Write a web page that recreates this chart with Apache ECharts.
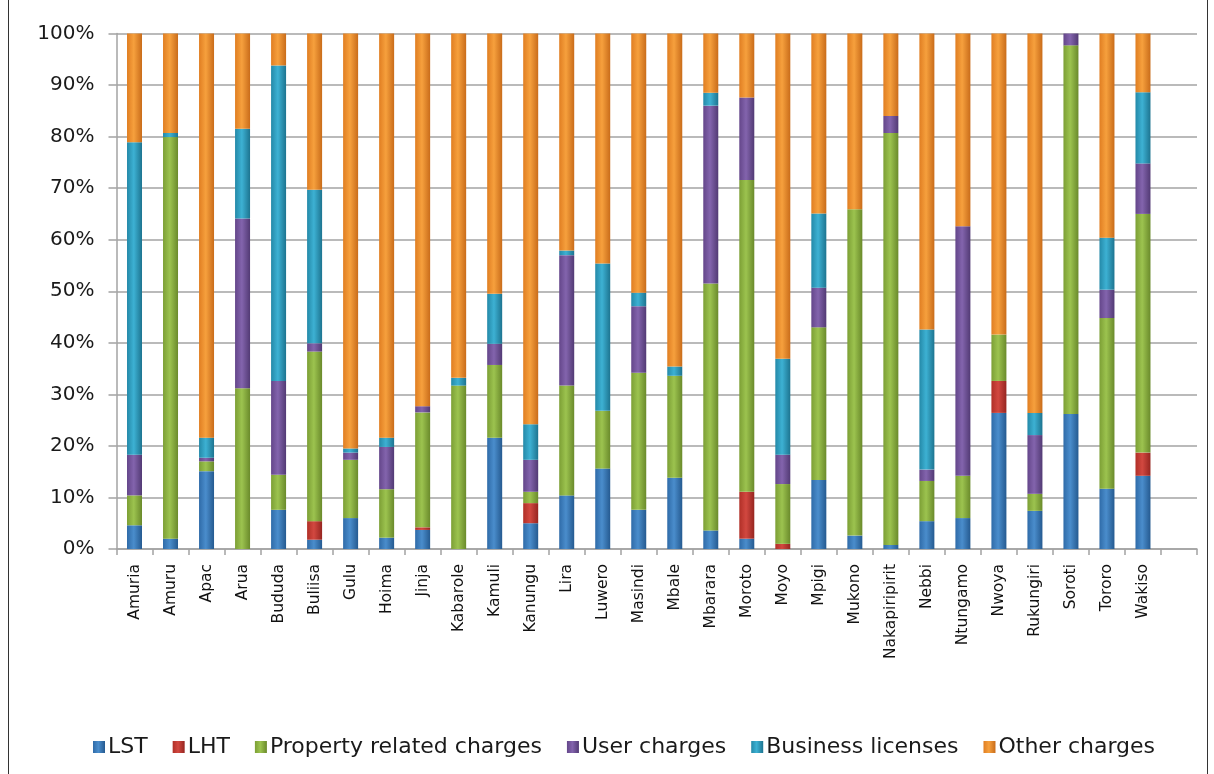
<!DOCTYPE html>
<html>
<head>
<meta charset="utf-8">
<title>Local revenue sources by district</title>
<script src="https://cdn.jsdelivr.net/npm/echarts@6/dist/echarts.min.js"></script>
<style>
    html, body { margin: 0; padding: 0; background: #fff; }
    #chart { width: 1214px; height: 774px; }
    .frame { position: absolute; top: 0; height: 774px; width: 0; border-left: 1.5px solid #333; }
</style>
</head>
<body>
<div id="chart"></div>
<div class="frame" style="left: 8px;"></div>
<div class="frame" style="left: 1207px;"></div>
<script>
// districts on the x axis
var districts = ['Amuria', 'Amuru', 'Apac', 'Arua', 'Bududa', 'Buliisa', 'Gulu', 'Hoima', 'Jinja',
    'Kabarole', 'Kamuli', 'Kanungu', 'Lira', 'Luwero', 'Masindi', 'Mbale', 'Mbarara', 'Moroto',
    'Moyo', 'Mpigi', 'Mukono', 'Nakapiripirit', 'Nebbi', 'Ntungamo', 'Nwoya', 'Rukungiri',
    'Soroti', 'Tororo', 'Wakiso'];

// share of each revenue source (%)
var lst      = [4.6, 2.0, 15.1, 0, 7.6, 1.8, 6.0, 2.2, 3.7, 0, 21.6, 5.0, 10.4, 15.6, 7.6, 13.8, 3.6, 2.0, 0, 13.4, 2.6, 0.8, 5.4, 6.0, 26.4, 7.4, 26.2, 11.7, 14.2];
var lht      = [0, 0, 0, 0, 0, 3.6, 0, 0, 0.5, 0, 0, 3.9, 0, 0, 0, 0, 0, 9.1, 1.0, 0, 0, 0, 0, 0, 6.2, 0, 0, 0, 4.5];
var property = [5.8, 77.9, 1.9, 31.2, 6.8, 32.9, 11.3, 9.4, 22.3, 31.7, 14.1, 2.2, 21.3, 11.2, 26.6, 19.8, 47.9, 60.5, 11.6, 29.6, 63.3, 79.9, 7.8, 8.2, 9.0, 3.3, 71.5, 33.1, 46.3];
var user     = [7.9, 0, 0.7, 32.9, 18.2, 1.6, 1.4, 8.2, 1.2, 0, 4.1, 6.2, 25.3, 0, 12.9, 0, 34.5, 16.0, 5.7, 7.7, 0, 3.3, 2.2, 48.4, 0, 11.4, 2.3, 5.5, 9.8];
var business = [60.6, 0.8, 3.9, 17.4, 61.2, 29.8, 0.8, 1.8, 0, 1.5, 9.7, 6.9, 0.9, 28.6, 2.6, 1.8, 2.5, 0, 18.6, 14.4, 0, 0, 27.2, 0, 0, 4.3, 0, 10.1, 13.8];
var other    = [21.1, 19.3, 78.4, 18.5, 6.2, 30.3, 80.5, 78.4, 72.3, 66.8, 50.5, 75.8, 42.1, 44.6, 50.3, 64.6, 11.5, 12.4, 63.1, 34.9, 34.1, 16.0, 57.4, 37.4, 58.4, 73.6, 0, 39.6, 11.4];

var yTicks = [0, 10, 20, 30, 40, 50, 60, 70, 80, 90, 100];

/**
 * bevelled look: darker edges, lighter middle
 */
function shade(left, mid, right) {
    return new echarts.graphic.LinearGradient(0, 0, 1, 0, [
        { offset: 0, color: left },
        { offset: 0.45, color: mid },
        { offset: 1, color: right }
    ]);
}

var sources = [
    { name: 'LST', data: lst, color: shade('#2f6ba8', '#4a8dcc', '#255a90') },
    { name: 'LHT', data: lht, color: shade('#b02f27', '#d24840', '#962520') },
    { name: 'Property related charges', data: property, color: shade('#7c9f35', '#9cc34f', '#6a8a2b') },
    { name: 'User charges', data: user, color: shade('#64468a', '#8364ad', '#523a74') },
    { name: 'Business licenses', data: business, color: shade('#2489a8', '#3db1d3', '#1d7490') },
    { name: 'Other charges', data: other, color: shade('#e07e22', '#f6a03d', '#c96c1a') }
];

var chart = echarts.init(document.getElementById('chart'));

chart.setOption({
    backgroundColor: '#fff',
    animation: false,
    grid: {
        left: 116.5,
        right: 17,
        top: 33.5,
        bottom: 225
    },
    legend: {
        left: 93,
        top: 736,
        padding: 0,
        itemWidth: 12,
        itemHeight: 12,
        itemGap: 25,
        icon: 'rect',
        textStyle: {
            fontFamily: 'DejaVu Sans',
            fontSize: 22,
            color: '#1a1a1a',
            padding: [0, 0, 0, -2]
        },
        data: sources.map(function (s) { return s.name; })
    },
    xAxis: {
        type: 'category',
        // Excel left one empty slot after the last district
        data: districts.concat(['']),
        axisLine: { lineStyle: { color: '#a3a3a3', width: 1.5 } },
        axisTick: { show: true, length: 6, lineStyle: { color: '#a3a3a3', width: 1.5 } },
        axisLabel: {
            rotate: 90,
            interval: 0,
            margin: 15,
            fontFamily: 'DejaVu Sans',
            fontSize: 15.5,
            color: '#111'
        }
    },
    yAxis: {
        type: 'value',
        min: yTicks[0],
        max: yTicks[yTicks.length - 1],
        interval: 10,
        axisLine: { show: true, lineStyle: { color: '#a3a3a3', width: 1.5 } },
        axisTick: { show: true, length: 8, lineStyle: { color: '#a3a3a3', width: 1.5 } },
        splitLine: { lineStyle: { color: '#a3a3a3', width: 1.5 } },
        axisLabel: {
            margin: 22,
            formatter: '{value}%',
            fontFamily: 'DejaVu Sans',
            fontSize: 20,
            color: '#1a1a1a'
        }
    },
    series: sources.map(function (s) {
        return {
            name: s.name,
            type: 'bar',
            stack: 'total',
            barWidth: 15,
            itemStyle: { color: s.color },
            data: s.data
        };
    })
});
</script>
</body>
</html>
